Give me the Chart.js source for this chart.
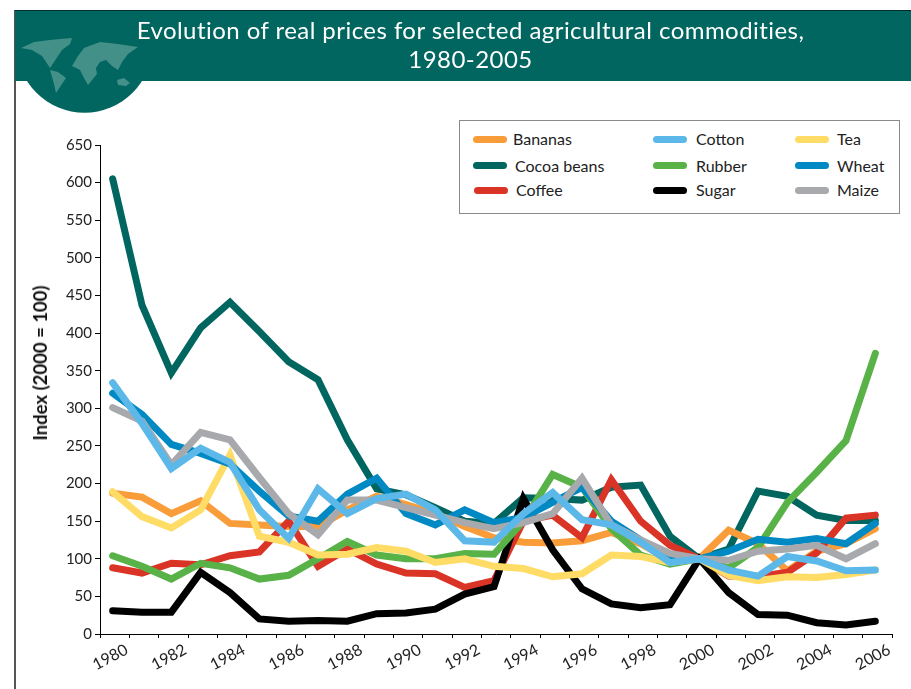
<!DOCTYPE html>
<html>
<head>
<meta charset="utf-8">
<title>Evolution of real prices</title>
<script src="https://cdn.jsdelivr.net/npm/chart.js@4"></script>
<style>
  html, body { margin: 0; padding: 0; background: #fff; overflow: hidden; }
  #page { position: relative; width: 911px; height: 689px; font-family: Lato, sans-serif; }
  #rule { position: absolute; left: 14px; top: 10px; width: 2px; height: 679px; background: #555; }
  #banner { position: absolute; left: 15px; top: 10px; right: 0; height: 71px; background: #00665f; border-top: 1px solid #02302c; box-sizing: border-box; }
  #globe { position: absolute; left: 0; top: 10px; }
  #map { position: absolute; left: 0; top: 0; }
  #title { position: absolute; left: 30px; right: 0; top: 15px; text-align: center; color: #fff; font-size: 24px; line-height: 29px; letter-spacing: 0.45px; }
  #ytitle { position: absolute; left: 40px; top: 363px; transform: translate(-50%, -50%) rotate(-90deg); font-size: 18.5px; font-weight: bold; color: #111; white-space: nowrap; }
  #legend { position: absolute; left: 459px; top: 120px; width: 441px; height: 94px; border: 1px solid #8a8a8a; box-sizing: border-box; background: #fff; }
  .item { position: absolute; font-size: 16px; color: #222; line-height: 18px; white-space: nowrap; }
  .swatch { position: absolute; width: 34px; height: 7px; border-radius: 4px; }
  canvas { position: absolute; left: 0; top: 0; }
</style>
</head>
<body>
<div id="page">
  <canvas id="myChart" width="911" height="689"></canvas>
  <div id="rule"></div>
  <svg id="globe" width="170" height="110"><circle cx="84.5" cy="34.7" r="68" fill="#00665f"/></svg>
  <div id="banner"></div>
  <svg id="map" width="170" height="120">
    <g fill="#439089">
      <path d="M21 48 L34 42 L50 40 L60 39 L72 38 L70 44 L62 50 L58 56 L54 62 L50 68 L46 62 L42 56 L32 50 Z"/>
      <path d="M50 70 L58 72 L66 78 L62 84 L56 93 L54 84 Z"/>
      <path d="M72 66 L78 56 L84 48 L100 42 L118 44 L138 47 L128 54 L122 62 L118 70 L112 66 L106 60 L100 62 L96 68 L97 74 L88 85 L84 78 L80 70 Z"/>
      <path d="M117 80 L124 78 L130 83 L126 86 L118 85 Z"/>
    </g>
  </svg>
  <div id="title">Evolution of real prices for selected agricultural commodities,<br>1980-2005</div>
  <div id="ytitle">Index (2000 = 100)</div>
  <div id="legend"></div>
</div>
<script>
const years = ['1980','1981','1982','1983','1984','1985','1986','1987','1988','1989','1990','1991','1992','1993','1994','1995','1996','1997','1998','1999','2000','2001','2002','2003','2004','2005','2006'];

const bananas = [187,182,160,177,147,145,143,143,165,183,172,160,143,128,122,121,124,135,120,98,100,138,120,84,110,120,140];
const cocoa   = [605,437,347,407,441,402,362,338,258,193,185,168,150,147,181,180,178,195,198,130,100,113,190,183,158,151,151];
const coffee  = [88,81,94,92,104,109,150,90,113,93,81,80,62,71,150,158,128,205,150,118,100,77,76,82,108,154,158];
const cotton  = [334,280,220,247,228,165,127,193,160,180,186,165,124,122,160,188,152,145,122,95,100,85,77,103,97,84,85];
const rubber  = [104,90,73,94,88,73,78,100,123,105,100,100,107,106,150,212,195,140,105,93,100,88,115,175,215,257,373];
const sugar   = [31,29,29,82,55,20,17,18,17,27,28,33,53,63,180,112,60,40,35,39,100,55,26,25,15,12,17];
const tea     = [189,156,141,165,238,130,122,105,106,115,110,95,100,90,87,76,80,105,103,95,100,78,71,76,75,79,85];
const wheat   = [320,292,252,240,226,190,157,150,186,207,160,145,165,148,155,175,195,150,125,100,100,110,126,122,127,120,147];
const maize   = [301,283,225,268,258,208,160,132,178,178,168,158,148,140,148,160,207,145,125,107,100,98,110,113,118,100,120];

// first dataset is painted last, so this is top to bottom
const series = [
  { label: 'Cotton', data: cotton, color: '#5bb8e8' },
  { label: 'Maize', data: maize, color: '#a8a9ad' },
  { label: 'Wheat', data: wheat, color: '#0089c2' },
  { label: 'Tea', data: tea, color: '#ffdc66' },
  { label: 'Rubber', data: rubber, color: '#58b247' },
  { label: 'Sugar', data: sugar, color: '#000000' },
  { label: 'Coffee', data: coffee, color: '#da3427' },
  { label: 'Bananas', data: bananas, color: '#f99d3a' },
  { label: 'Cocoa beans', data: cocoa, color: '#00665f' }
];

const data = {
  labels: years,
  datasets: series.map(s => ({
    label: s.label,
    data: s.data,
    borderColor: s.color,
    backgroundColor: s.color,
    borderWidth: 7,
    borderCapStyle: 'round',
    borderJoinStyle: 'miter',
    tension: 0,
    fill: false,
    pointRadius: 0
  }))
};

// the lines sit a little left of the tick band centres in the original
const nudgeLines = {
  id: 'nudgeLines',
  beforeDatasetsDraw(chart) { chart.ctx.save(); chart.ctx.translate(-2, 0); },
  afterDatasetsDraw(chart) { chart.ctx.restore(); }
};

const config = {
  type: 'line',
  data: data,
  plugins: [nudgeLines],
  options: {
    responsive: false,
    animation: false,
    layout: { padding: { left: 26, top: 145, right: 19, bottom: 0 } },
    plugins: { legend: { display: false }, title: { display: false }, tooltip: { enabled: false } },
    scales: {
      x: {
        offset: true,
        afterFit: scale => { scale.height = 55; },
        border: { color: '#000', width: 1 },
        grid: { drawOnChartArea: false, offset: true, color: '#000', tickLength: 4 },
        ticks: {
          autoSkip: false,
          maxRotation: 28,
          minRotation: 28,
          labelOffset: 12,
          padding: 2,
          color: '#222',
          font: { family: 'Lato', size: 16 },
          callback: function (value, i) { return i % 2 === 0 ? years[i] : ''; }
        }
      },
      y: {
        min: 0,
        max: 650,
        afterFit: scale => { scale.width = 74; },
        border: { color: '#000', width: 1 },
        grid: { drawOnChartArea: false, color: '#000', tickLength: 5 },
        ticks: { stepSize: 50, padding: 3, color: '#222', font: { family: 'Lato', size: 15 } }
      }
    }
  }
};

new Chart(document.getElementById('myChart'), config);

// legend is three columns in a box, laid out by hand
const legendSlots = [
  ['Bananas', 13, 14.5, 53, 9], ['Cocoa beans', 13, 41, 55, 36], ['Coffee', 14, 65.5, 56, 60],
  ['Cotton', 193, 14.5, 236, 9], ['Rubber', 193, 41, 236, 36], ['Sugar', 193, 65.5, 236, 60],
  ['Tea', 335, 14.5, 377, 9], ['Wheat', 335, 41, 377, 36], ['Maize', 335, 65.5, 377, 60]
];
const legend = document.getElementById('legend');
legendSlots.forEach(([name, swatchX, swatchY, textX, textY]) => {
  const swatch = document.createElement('div');
  swatch.className = 'swatch';
  swatch.style.left = swatchX + 'px';
  swatch.style.top = swatchY + 'px';
  swatch.style.background = series.find(s => s.label === name).color;
  legend.appendChild(swatch);
  const text = document.createElement('div');
  text.className = 'item';
  text.style.left = textX + 'px';
  text.style.top = textY + 'px';
  text.textContent = name;
  legend.appendChild(text);
});
</script>
</body>
</html>
